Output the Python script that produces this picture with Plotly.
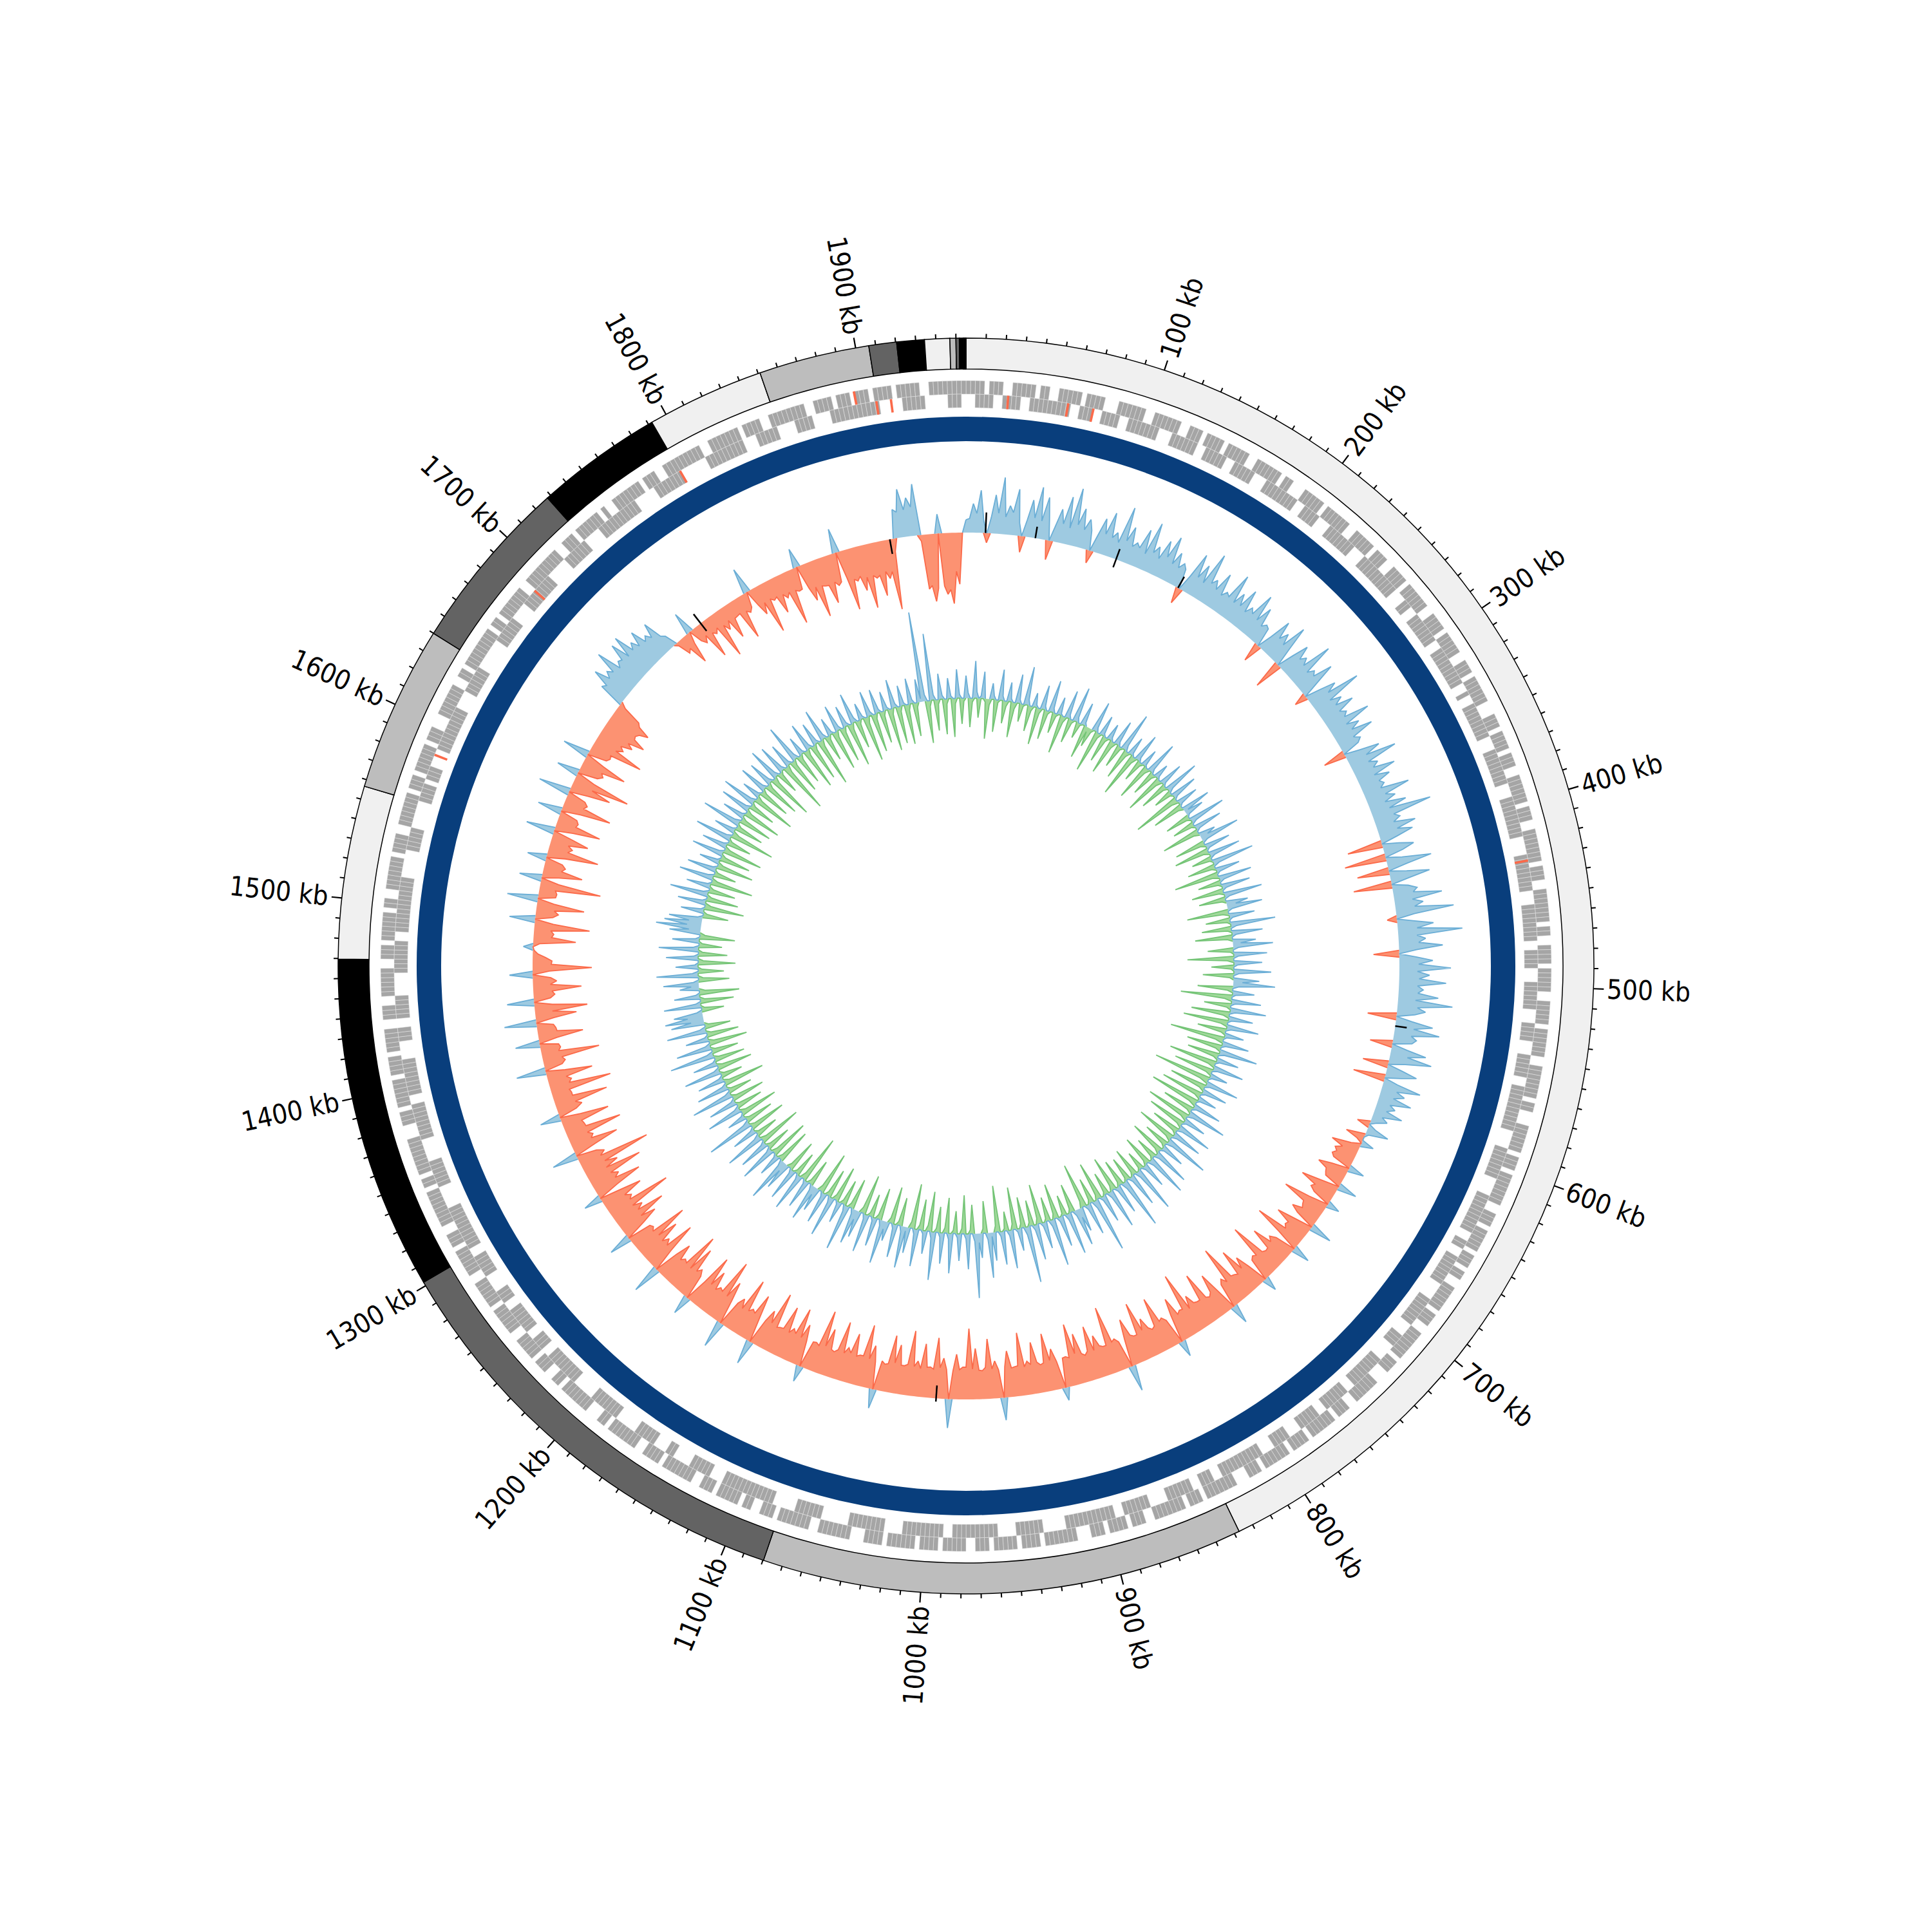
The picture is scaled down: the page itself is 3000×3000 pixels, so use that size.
import numpy as np
import plotly.graph_objects as go

# ---------------- DATA ----------------
GENOME_KB = 1955.0
GENE_BIN_KB = 2.5
TRACK_STEP_KB = 2.5

# contig boundaries along the concatenated genome (kb); colours cycle light/mid/dark/black
CONTIG_BOUNDS_KB = [0, 837.5, 1079.7, 1302, 1469.7, 1556.6, 1640, 1728, 1792, 1851,
                    1906.6, 1920.5, 1934.4, 1947, 1950, 1951.7, 1953.6, 1954.0, 1954.4,
                    1954.8, 1955.0]
CONTIG_COLORS = ["#f0f0f0", "#bdbdbd", "#636363", "#000000"]

TICK_MINOR_KB = [k for k in range(10, 1960, 10) if k % 100 != 0]
TICK_MAJOR_KB = list(range(100, 2000, 100))
TICK_LABELS = [f"{k} kb" for k in TICK_MAJOR_KB]

# gene occupancy per 2.5 kb bin (1 = CDS present): forward (outer row), reverse (inner row)
GENES_FWD = "".join([
    "11110111001111101100", "11111011110001111110", "01111110011101111011", "11100111111011000111",
    "11011111100111110111", "00111101111110011110", "11111001110111111000", "11101111011100111111",
    "01110011111110111001", "11111101100111101111", "10011111011111100111", "11110110001111110111",
    "01111111001110111110", "11101100111111011100", "11111110111000111111", "00111011111101111011",
    "11110111000111111101", "11011111110011101111", "01110001111111011110", "11111011100111110111",
    "10111111011110001111", "11100111111101110011", "01111101110011111110", "11110011111110110001",
    "11111101100111011111", "00111111011111100111", "11101110011111111011", "01111111100011101111",
    "11011110111110011100", "11111100111011111101", "10011111110111100111", "11110111011111101110",
    "00111111100110111111", "11101101111111001111", "11111001110111111010", "01111111011100111111",
    "11100111111101111001", "11111110011110111011", "10111101111100111111", "11"])
GENES_REV = "".join([
    "00111100111100111111", "11100111001111001111", "11100011111100111110", "01111100011111111001",
    "11100011111110001111", "11111100011001111111", "00111111111001001111", "11110001111111100011",
    "11111110000111111110", "00111111110011110001", "11111000111100011111", "00111111111100001111",
    "11100001111111110011", "00111111100001111111", "00011100001111111100", "11111100111110001111",
    "00011111111110011100", "11111100001111110011", "11111111100000111111", "00001111111111001111",
    "11111000011111111000", "00011111100000111111", "11111100011111000011", "00011111000001111111",
    "00000111111110011100", "11111100111000011111", "00111111111100000111", "11100000111111110011",
    "11111100001110011111", "00000111111100111111", "11111100000011111000", "00011110111000011111",
    "11111000011111100000", "00111111000011111111", "00000111111000011111", "11111000001111111000",
    "00011111111100011111", "00001111000011111111", "11100000111110000011", "10"])

# rRNA / tRNA features (kb, strand: 1 outer, -1 inner)
RNA_KB = [23, 56, 70, 431, 1584, 1689, 1792, 1895, 1906, 1914]
RNA_STRAND = [-1, -1, -1, -1, -1, -1, -1, 1, -1, -1]

# GC skew per 2.5 kb window (x1000)
GC_SKEW = [
    20, 22, 45, 30, 66, 18, -15, 24, 60, 32, 88, 27, 45, 35, 72, 20, -25, 26, 58, 31,
    80, 28, 66, 33, -30, 25, 52, 30, 74, 26, 90, 34, 61, 29, 47, 31, -20, 27, 55, 32,
    68, 30, 40, 26, 85, 33, 57, 28, 36, 30, 62, 25, 78, 32, 44, 27, 59, 35, 71, 29,
    50, 28, 38, 31, -25, 26, 66, 30, 54, 27, 80, 33, 42, 29, 60, 26, 35, 31, 73, 28,
    48, 30, 62, 27, 39, 32, 70, 29, 55, 26, 33, 30, -30, 24, 58, 31, 45, 28, 67, 30,
    -45, 27, 52, 31, 40, 29, 75, 26, 36, 30, 60, 28, -20, 25, 49, 32, 83, 27, 44, 30,
    57, 29, 38, 31, 70, 27, 46, 30, 62, 26, 35, 28, -35, 25, 55, 30, 77, 28, 41, 31,
    64, 27, 50, 30, 36, 28, 72, 31, 45, 26, 58, 29, 94, 32, 40, 28, 61, 30, 53, 27,
    -55, 26, 48, 29, -65, 25, 70, 30, -50, 27, 62, 28, -60, 25, 38, 31, 75, 28, 44, 30,
    90, 28, -15, 27, 56, 30, 100, 29, 42, 31, 68, 27, -40, 26, 52, 30, 80, 28, 47, 31,
    73, 29, 38, 30, 62, 27, 85, 31, 44, 28, -45, 25, 58, 29, 70, 27, 36, 30, -35, 24,
    55, 27, 66, 26, -40, 24, 48, 25, -50, 22, 60, 24, 38, 22, 52, 20, 30, 18, 45, 15, 25, 10,
    -20, 12, 35, 5, -30, -10, 20, -15, -45, -25, -35, -30,
    -35, -30, 25, -28, -48, -32, -30, -27, 30, -30, -60, -34, -38, -29, 20, -31, -72, -35, -33, -30,
    -45, -32, 35, -30, -58, -34, -36, -31, -80, -36, 28, -33, -42, -35, -65, -32, -31, -34, -88, -37,
    -40, -36, 22, -33, -55, -38, -75, -35, -38, -40, -95, -37, -46, -39, 30, -36, -68, -40, -35, -38,
    -82, -40, -40, -42, -57, -38, -100, -43, -44, -40, -70, -44, 25, -41, -48, -45, -86, -42, -39, -44,
    -62, -45, -92, -42, -42, -46, -74, -44, 40, -43, -50, -47, -105, -45, -45, -48, -66, -44, -84, -46,
    -41, -45, -78, -48, -96, -44, -47, -46, 20, -43, -64, -47, -90, -45, -43, -48, -80, -46, -52, -44,
    -98, -47, -46, -45, -72, -48, 35, -44, -58, -46, -93, -49, -44, -45, -79, -47, -110, -50, -50, -46,
    -70, -44, 45, -46, -63, -48, -94, -45, -48, -47, -83, -44, -55, -46, -101, -48, -45, -45, -76, -47,
    -89, -44, -42, -46, 30, -43, -67, -45, -97, -47, -47, -44, -78, -46, -53, -43, -91, -45, -40, -42,
    -73, -44, -99, -41, -44, -43, 25, -40, -65, -42, -87, -44, -50, -41, -81, -43, -42, -40, -94, -42,
    -60, -41, 38, -39, -75, -42, -46, -40, -90, -38, -52, -41, 42, -39, -68, -40, -98, -42, -45, -38,
    -66, -40, -85, -37, 30, -39, -48, -41, -79, -38, -95, -40, -43, -37, -62, -39, 45, -36, -83, -38,
    -47, -37, -70, -39, -92, -36, -41, -38, 35, -35, -60, -37, -81, -39, -50, -36, -103, -38, -44, -35,
    -67, -36, 28, -34, -77, -37, -46, -35, -89, -33, -55, -36, -112, -34, -43, -32, 40, -35, -74, -33,
    -38, -31, -88, -33, -32, -30, -76, -32, 32, -29, -40, -31, -84, -30, -30, -28, -96, -31, -36, -29,
    -72, -30, 46, -28, -34, -30, -90, -27, -31, -29, 38, -28, -70, -30, -29, -26, 50, -28, -64, -27,
    -82, -28, 42, -26, -33, -29, -75, -27, -37, -28, 36, -26, -92, -29, -30, -20, -8, -2, 15, -10,
    -66, -28, -31, -26, -86, -29, 40, -27, -35, -28, -74, -26, 48, -27, -28, -25, -95, -28, 35, -26,
    -62, -28, -33, -27, 30, -29, -80, -30, -36, -28, -58, -31, 45, -29, -71, -30, -32, -28, 38, -30,
    -77, -31, -35, -29, 50, -30, -64, -32, -90, -30, 35, -31, -38, -33, -70, -31, 42, -30, -34, -32, -82, -35, -45, -38,
    -55, -45, -70, -50, -48, -52, -65, -45, -40, -10,
    40, 35, 62, 38, 48, 40, 75, 36, 45, 42, 68, 38, 72, 40, 50, 37, 60, 35, 42, 33, 55, 25, 20, -5,
    -25, -20, -50, -18, 35, -22, -30, -20, -62, -23, -28, -21, -75, -24, -35, -22, -55, -25, -24, -23,
    -68, -25, -30, -24, 40, -26, -45, -28, -80, -27, -32, -29, -58, -30, -38, -31, -85, -33, -36, -35,
    30, -38, -60, -40, -90, -42, -44, -45, -75, -43, -50, -46, 38, -44, -95, -48, -52, -46, -70, -50,
    -100, -50, -55, -52, -85, -48, -60, -50, -110, -20,
    45, 40, 75, 42, 60, 45, 80, -10,
    -85, -80, -105, -85, 30, -82, -95, -88, -110, -60, -80, 0,
]

# GC content deviation from genome mean per 2.5 kb window (x1000)
GC_DEV = [
    35, 8, -45, -6, 58, 10, -30, 4, 42, -5, -62, -9, 25, 6, -50, -4, 48, 7, -35, -8,
    30, 5, -55, -10, 45, 6, -28, -3, 60, 9, -40, -7, 22, 4, -58, -8, 38, 6, -46, -5,
    50, 7, -32, -4, 28, 3, -60, -9, 44, 6, -38, -5, 55, 8, -25, -3, 36, 5, -52, -7,
    -30, -5, 48, 7, -65, -8, 32, 4, -42, -6, 26, 5, -55, -9, 40, 6, -36, -4, 62, 9,
    -48, -7, 30, 4, -70, -10, 45, 6, -34, -5, 28, 3, -58, -8, 52, 7, -40, -6, 24, 4,
    -62, -9, 38, 5, -45, -6, 56, 8, -30, -4, 42, 6, -75, -11, 34, 5, -50, -7, 46, 6,
    30, 4, -40, -6, 58, 8, -35, -5, 44, 6, -60, -9, 26, 12, 62, 8, -48, -7, 40, 5,
    -55, -8, 50, 7, -32, -4, 66, 9, -44, -6, 38, 5, -70, -10, 52, 7, -36, -5, 45, 6,
    -50, -7, 60, 8, -42, -6, 34, 14, 55, 7, -65, -9, 40, 5, -38, -5, 70, 9, -46, -6,
    48, 6, -58, -8, 36, 12, 62, 8, -40, -5, 52, 7, -72, -10, 44, 6, -35, -4, 58, 8,
    -48, -6, 40, 14, 65, 9, -55, -8, 34, 5, -80, -11, 46, 6, -42, -6, 56, 8, -60, -9,
    38, 5, -70, -10, 50, 7, -45, -7, 30, 4, -85, -12, 42, 6, -55, -8, 60, 8, -50, -7,
    35, 5, -75, -11, 48, 7, -62, -9, 28, 4, -90, -13, 52, 7, -58, -8, 40, 6, -66, -9,
    30, 4, -78, -11, 45, 6, -50, -7, 62, 9, -70, -10, 36, 5, -60, -8, 55, 8, -45, -6,
    48, 7, -62, -9, 70, 10, -40, -6, 38, 5, -55, -8, 58, 8, -35, -5, 66, 9, -48, -7,
    40, 6, -30, -4, 72, 10, -45, -6, 52, 7, -38, -5, 80, 11, -42, -6, 46, 6, -55, -8,
    62, 9, -36, -5, 44, 6, -60, -8, 85, 12, -40, -6, 50, 7, -70, -10, 38, 14, 58, 8,
    -45, -6, 66, 9, -32, -4, 48, 7, -55, -8, 74, 10, -38, -5, 42, 6, -62, -9, 56, 8,
    -40, -6, 88, 12, -48, -7, 35, 5, -66, -9, 60, 8, -30, -4, 52, 7, -72, -10, 44, 6,
    70, 10, -50, -7, 38, 14, 100, 12, -45, -6, 55, 8, -60, -8, 42, 6, -35, -5, 62, 9,
    -55, -8, 48, 7, -40, -6, 75, 10, -62, -9, 36, 5, -48, -7, 58, 8, -70, -10, 40, 6,
    65, 9, -44, -6, 52, 7, -58, -8, 30, 12, 68, 9, -50, -7, 45, 6, -36, -5, 60, 8,
    -62, -9, 42, 14, 55, 8, -48, -7, 72, 10, -40, -6, 34, 5, -56, -8, 64, 9, -45, -6,
    50, 7, -66, -9, 38, 12, 58, 8, -42, -6, 46, 6, -75, -10, 60, 8, -38, -5, 52, 7,
    -50, -7, 44, 14, 70, 10, -55, -8, 36, 5, -62, -9, 58, 8, -40, -6, 48, 7, -68, -9,
    62, 9, -36, -5, 40, 6, -58, -8, 74, 10, -45, -6, 30, 4, -60, -8, 56, 8, -42, -6,
    45, 6, -52, -7, 66, 9, -38, -5, 50, 7, -64, -9, 42, 6, -34, -5, 58, 8, -55, -8,
    38, 5, -48, -7, 70, 10, -42, -6, 55, 8, -60, -8, 36, 5, -50, -7, 62, 9, -40, -6,
    52, 20, 60, 24, 45, 8, -35, -5, 58, 8, -52, -7, 40, 6, -62, -9, 30, 12, 55, 8,
    -48, -7, 65, 9, -40, -6, 35, 5, -58, -8, 50, 7, -45, -6, 62, 9, -36, -5, 42, 6,
    -55, -8, 48, 18, 70, 22, 58, 20, 52, 8, -40, -6, 36, 5, -62, -9, 44, 6, -50, -7,
    60, 8, -42, -6, 38, 5, -66, -9, 54, 8, -35, -5, 46, 6, -58, -8, 32, 4, -48, -7,
    50, 7, -62, -9, 40, 6, -38, -5, 58, 8, -70, -10, 34, 5, -45, -6, 62, 9, -52, -7,
    36, 5, -60, -8, 48, 7, -42, -6, 55, 8, -68, -9, 30, 4, -50, -7, 45, 6, -58, -8,
    40, 6, -72, -10, 52, 7, -36, -5, 46, 6, -80, -11, 38, 5, -55, -8, 60, 8, -48, -7,
    30, 4, -65, -9, 44, 6, -58, -8, 36, 5, -75, -10, 50, 7, -40, -6, 28, 4, -62, -9,
    42, 6, -55, -8, 34, 5, -68, -9, 48, 7, -44, -6, 26, 4, -70, -10, 40, 6, -60, -8,
    38, 5, -50, -7, 30, 4, -66, -9, 45, 6, -58, -8, 32, 4, -62, -9, 40, 6, -52, -7,
    36, 5, 140, 10, -66, -9, 104, 8, -48, -7, 40, 6, -55, -8, 32, 4, -60, -8, 45, 6, -40, -5,
]

# black marks on the GC skew track (kb, inner/outer offset from baseline)
MARK_KB = [14, 50, 110, 159, 532, 999, 1750, 1900]
MARK_LO = [0, 0, -13, 0, 0, -20, -15, -23]
MARK_HI = [32, 18, 17, 20, 18, 5, 18, 0]

# ---------------- GEOMETRY / STYLE ----------------
R_RING = (927, 975)
R_GENE_OUT = (888, 909)
R_GENE_IN = (867, 888)
R_BLUE = (815, 853)
SKEW_BASE = 673
GC_BASE = 416
FONT = "DejaVu Sans Condensed, DejaVu Sans"
FS = 42


def deg(kb):
    return np.asarray(kb, dtype=float) / GENOME_KB * 360.0


fig = go.Figure()

# outer contig ring
starts = np.array(CONTIG_BOUNDS_KB[:-1])
ends = np.array(CONTIG_BOUNDS_KB[1:])
cols = [CONTIG_COLORS[i % 4] for i in range(len(starts))]
fig.add_trace(go.Barpolar(
    theta=deg((starts + ends) / 2), width=deg(ends - starts),
    base=R_RING[0], r=[R_RING[1] - R_RING[0]] * len(starts),
    marker=dict(color=cols, line=dict(color="black", width=1.5)),
    hoverinfo="skip"))


def tick_trace(kbs, length, width):
    rr, tt = [], []
    for k in kbs:
        rr += [R_RING[1], R_RING[1] + length, None]
        tt += [float(deg(k)), float(deg(k)), None]
    return go.Scatterpolar(r=rr, theta=tt, mode="lines",
                           line=dict(color="black", width=width), hoverinfo="skip")


fig.add_trace(tick_trace(TICK_MINOR_KB, 7, 2))
fig.add_trace(tick_trace(TICK_MAJOR_KB, 16, 2.2))


def gene_trace(s, rng):
    idx = [i for i, c in enumerate(s) if c == "1"]
    mids = [(i * GENE_BIN_KB + GENE_BIN_KB / 2) for i in idx]
    return go.Barpolar(theta=deg(mids), width=float(deg(GENE_BIN_KB)),
                       base=rng[0], r=[rng[1] - rng[0]] * len(idx),
                       marker=dict(color="#a5a5a5", line=dict(color="#e8e8e8", width=0.5)),
                       hoverinfo="skip")


fig.add_trace(gene_trace(GENES_FWD, R_GENE_OUT))
fig.add_trace(gene_trace(GENES_REV, R_GENE_IN))

rna_base = [R_GENE_OUT[0] if s > 0 else R_GENE_IN[0] for s in RNA_STRAND]
fig.add_trace(go.Barpolar(theta=deg(RNA_KB), width=float(deg(1.3)),
                          base=rna_base, r=[21] * len(RNA_KB),
                          marker=dict(color="#fb6a4a", line=dict(width=0)),
                          hoverinfo="skip"))

# blue ring
fig.add_trace(go.Barpolar(theta=[90, 270], width=[180.6, 180.6], base=R_BLUE[0],
                          r=[R_BLUE[1] - R_BLUE[0]] * 2,
                          marker=dict(color="#093e7c", line=dict(width=0)),
                          hoverinfo="skip"))


def series_traces(vals, base, pos_color, pos_fill, neg_color, neg_fill):
    v = list(vals) + [vals[0]]
    th = list(deg(np.arange(len(vals)) * TRACK_STEP_KB)) + [360.0]
    n = len(v)
    fills, lines = [], []
    for sign, lc, fc in ((1, pos_color, pos_fill), (-1, neg_color, neg_fill)):
        c = [max(x, 0) if sign > 0 else min(x, 0) for x in v]
        r_poly = [base + x for x in c] + [base] * n
        t_poly = th + th[::-1]
        fills.append(go.Scatterpolar(r=r_poly, theta=t_poly, mode="lines",
                                     fill="toself", fillcolor=fc,
                                     line=dict(width=0, color=fc), hoverinfo="skip"))
        rl, tl = [], []
        for i in range(n):
            act = c[i] != 0 or (i > 0 and c[i - 1] != 0) or (i < n - 1 and c[i + 1] != 0)
            rl.append(base + c[i] if act else None)
            tl.append(th[i] if act else None)
        lines.append(go.Scatterpolar(r=rl, theta=tl, mode="lines",
                                     line=dict(width=1.8, color=lc), hoverinfo="skip"))
    return fills + lines


for t in series_traces(GC_SKEW, SKEW_BASE, "#6baed6", "#9ecae1", "#fb6a4a", "#fc9272"):
    fig.add_trace(t)

rr, tt = [], []
for k, lo, hi in zip(MARK_KB, MARK_LO, MARK_HI):
    rr += [SKEW_BASE + lo, SKEW_BASE + hi, None]
    tt += [float(deg(k)), float(deg(k)), None]
fig.add_trace(go.Scatterpolar(r=rr, theta=tt, mode="lines",
                              line=dict(color="black", width=2.5), hoverinfo="skip"))

for t in series_traces(GC_DEV, GC_BASE, "#6baed6", "#9ecae1", "#74c476", "#a1d99b"):
    fig.add_trace(t)

# tick labels (radial)
CW = {" ": 0.286, "k": 0.521, "b": 0.571}
annotations = []
for k, lab in zip(TICK_MAJOR_KB, TICK_LABELS):
    th = float(deg(k))
    w = sum(CW.get(ch, 0.572) for ch in lab) * FS
    rc = 996 + w / 2
    a = np.radians(th)
    ang = th - 90 if th < 180 else th - 270
    annotations.append(dict(x=0.5 + rc * np.sin(a) / 3000, y=0.5 + rc * np.cos(a) / 3000,
                            xref="paper", yref="paper", text=lab, showarrow=False,
                            textangle=ang, xanchor="center", yanchor="middle",
                            font=dict(family=FONT, size=FS, color="black")))

fig.update_layout(
    width=3000, height=3000, margin=dict(l=0, r=0, t=0, b=0),
    paper_bgcolor="white", plot_bgcolor="white", showlegend=False,
    annotations=annotations,
    polar=dict(
        domain=dict(x=[0, 1], y=[0, 1]), bgcolor="white", hole=0,
        radialaxis=dict(range=[0, 1500], autorange=False, visible=False,
                        showgrid=False, showline=False, showticklabels=False, ticks=""),
        angularaxis=dict(rotation=90, direction="clockwise", visible=False,
                         showgrid=False, showline=False, showticklabels=False, ticks=""),
        barmode="overlay",
    ),
)

fig.write_html("out.html", config={"displayModeBar": False},
               post_script="document.body.style.margin='0px';document.body.style.padding='0px';")
